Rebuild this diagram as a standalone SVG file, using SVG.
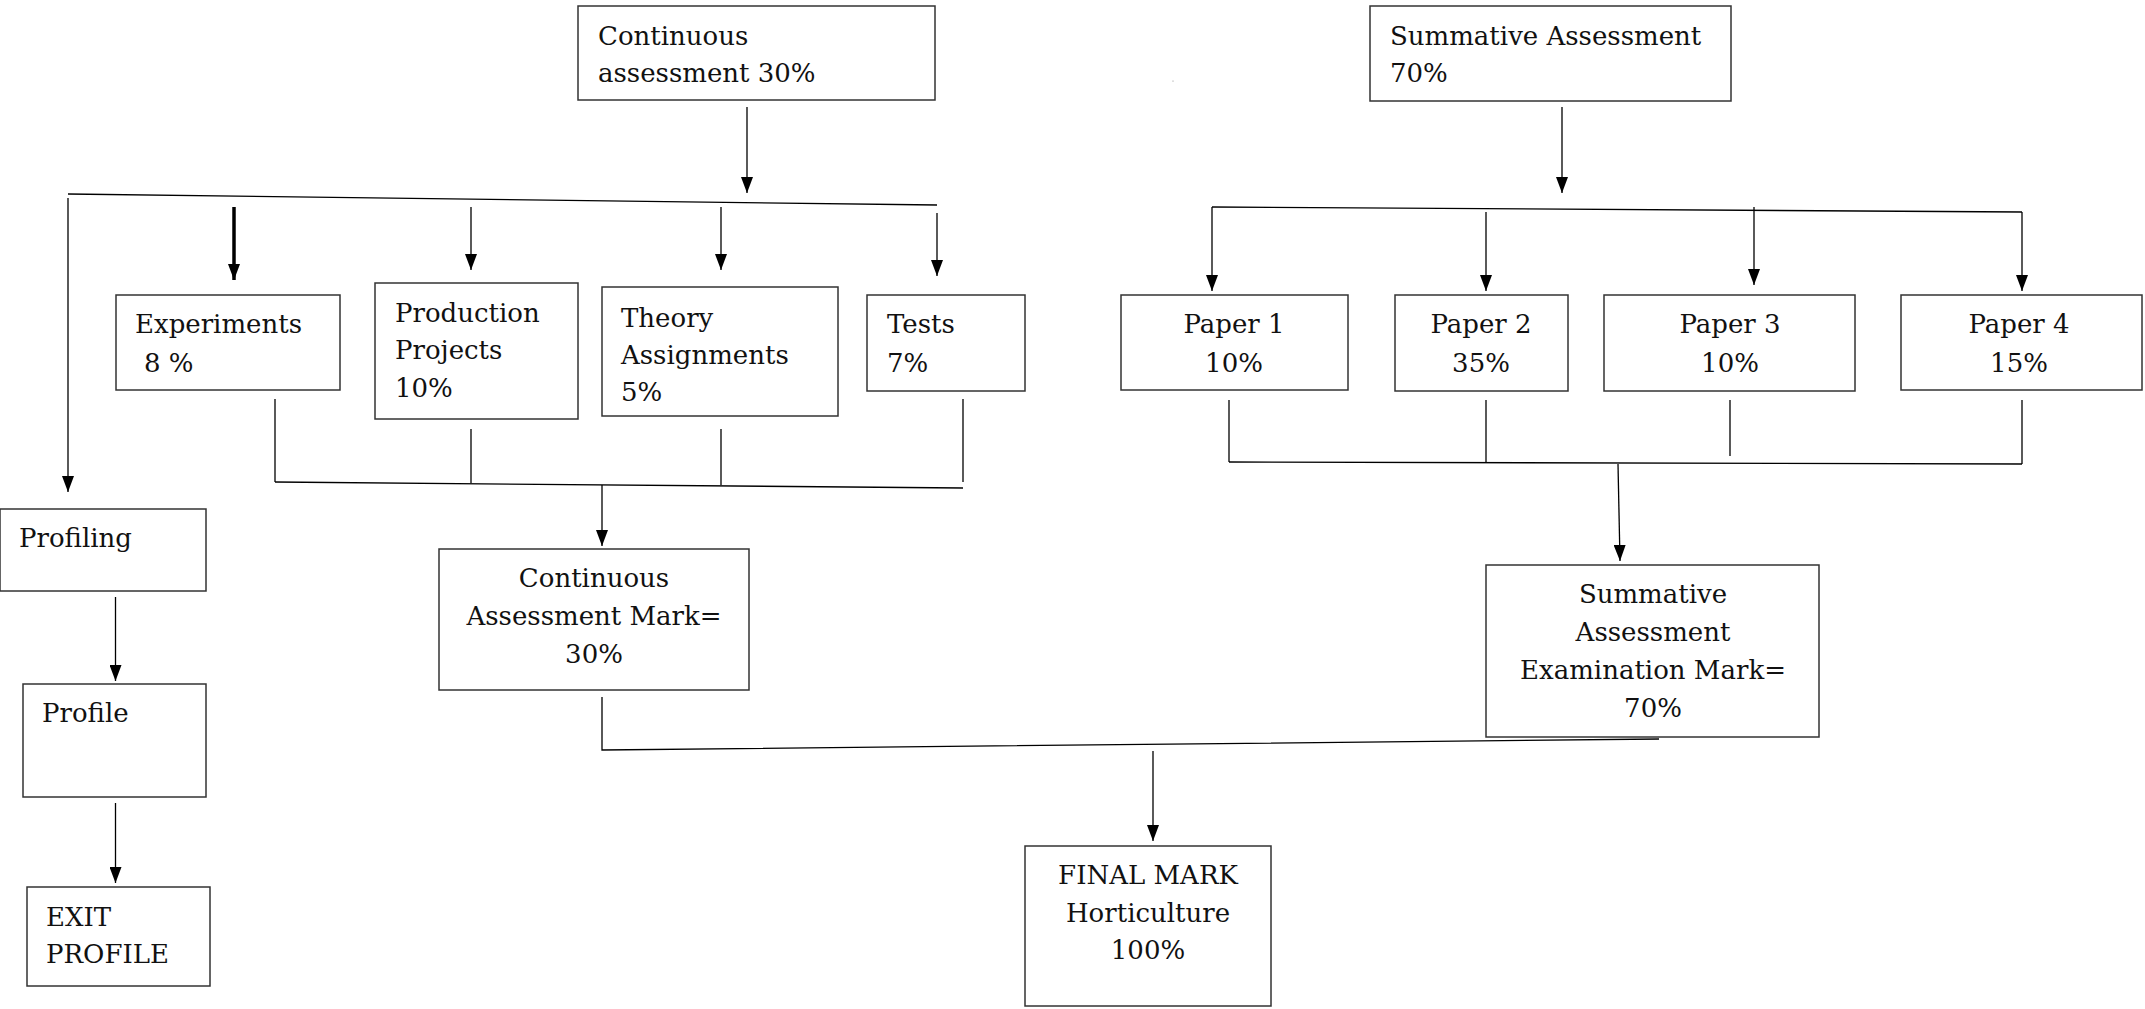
<svg xmlns="http://www.w3.org/2000/svg" width="2145" height="1009" viewBox="0 0 2145 1009">
<style>
.box{fill:#fff;stroke:#333;stroke-width:1.5}
.t{font-family:"DejaVu Serif","Liberation Serif",serif;font-size:26px;fill:#111}
.c{text-anchor:middle}
.ln{stroke:#000;stroke-width:1.3;fill:none}
.ar{stroke:#000;stroke-width:1.3;fill:none;marker-end:url(#ah)}
.thick{stroke:#000;stroke-width:3.5;fill:none;marker-end:url(#ah)}
</style>
<defs>
<marker id="ah" markerUnits="userSpaceOnUse" markerWidth="16" markerHeight="12" viewBox="0 0 16 12" refX="16" refY="6" orient="auto">
<path d="M0,0 L16,6 L0,12 z" fill="#000"/>
</marker>
</defs>
<rect width="2145" height="1009" fill="#fff"/>
<g id="connectors">
<line class="ar" x1="747" y1="107" x2="747" y2="193"/>
<line class="ln" x1="68" y1="194" x2="937" y2="205"/>
<line class="ar" x1="68" y1="198" x2="68" y2="492"/>
<line class="thick" x1="234" y1="207" x2="234" y2="280"/>
<line class="ar" x1="471" y1="207" x2="471" y2="270"/>
<line class="ar" x1="721" y1="207" x2="721" y2="270"/>
<line class="ar" x1="937" y1="213" x2="937" y2="276"/>
<line class="ln" x1="275" y1="399" x2="275" y2="482"/>
<line class="ln" x1="471" y1="429" x2="471" y2="483"/>
<line class="ln" x1="721" y1="429" x2="721" y2="485"/>
<line class="ln" x1="963" y1="399" x2="963" y2="482"/>
<line class="ln" x1="275" y1="482" x2="963" y2="488"/>
<line class="ar" x1="602" y1="485" x2="602" y2="546"/>
<line class="ar" x1="115.5" y1="597" x2="115.5" y2="681"/>
<line class="ar" x1="115.5" y1="803" x2="115.5" y2="883"/>
<polyline class="ln" points="602,697 602,750 1659,739"/>
<line class="ar" x1="1153" y1="751" x2="1153" y2="841"/>
<line class="ar" x1="1562" y1="107" x2="1562" y2="193"/>
<line class="ln" x1="1212" y1="207" x2="2022" y2="212"/>
<line class="ar" x1="1212" y1="207" x2="1212" y2="291"/>
<line class="ar" x1="1486" y1="212" x2="1486" y2="291"/>
<line class="ar" x1="1754" y1="207" x2="1754" y2="285"/>
<line class="ar" x1="2022" y1="212" x2="2022" y2="291"/>
<line class="ln" x1="1229" y1="400" x2="1229" y2="462"/>
<line class="ln" x1="1486" y1="400" x2="1486" y2="462"/>
<line class="ln" x1="1730" y1="400" x2="1730" y2="456"/>
<line class="ln" x1="2022" y1="400" x2="2022" y2="464"/>
<line class="ln" x1="1229" y1="462" x2="2022" y2="464"/>
<line class="ar" x1="1618" y1="464" x2="1620" y2="561"/>
<circle cx="1173" cy="81" r="0.6" fill="#888"/>
</g>
<g id="ca-top"><rect class="box" x="578" y="6" width="357" height="94"/><text class="t" x="598" y="45">Continuous</text><text class="t" x="598" y="82">assessment 30%</text></g>
<g id="sa-top"><rect class="box" x="1370" y="6" width="361" height="95"/><text class="t" x="1390" y="45">Summative Assessment</text><text class="t" x="1390" y="82">70%</text></g>
<g id="experiments"><rect class="box" x="116" y="295" width="224" height="95"/><text class="t" x="135" y="333">Experiments</text><text class="t" x="144" y="372">8 %</text></g>
<g id="production"><rect class="box" x="375" y="283" width="203" height="136"/><text class="t" x="395" y="322">Production</text><text class="t" x="395" y="359">Projects</text><text class="t" x="395" y="397">10%</text></g>
<g id="theory"><rect class="box" x="602" y="287" width="236" height="129"/><text class="t" x="621" y="327">Theory</text><text class="t" x="621" y="364">Assignments</text><text class="t" x="621" y="401">5%</text></g>
<g id="tests"><rect class="box" x="867" y="295" width="158" height="96"/><text class="t" x="887" y="333">Tests</text><text class="t" x="887" y="372">7%</text></g>
<g id="paper1"><rect class="box" x="1121" y="295" width="227" height="95"/><text class="t c" x="1234" y="333">Paper 1</text><text class="t c" x="1234" y="372">10%</text></g>
<g id="paper2"><rect class="box" x="1395" y="295" width="173" height="96"/><text class="t c" x="1481" y="333">Paper 2</text><text class="t c" x="1481" y="372">35%</text></g>
<g id="paper3"><rect class="box" x="1604" y="295" width="251" height="96"/><text class="t c" x="1730" y="333">Paper 3</text><text class="t c" x="1730" y="372">10%</text></g>
<g id="paper4"><rect class="box" x="1901" y="295" width="241" height="95"/><text class="t c" x="2019" y="333">Paper 4</text><text class="t c" x="2019" y="372">15%</text></g>
<g id="profiling"><rect class="box" x="0" y="509" width="206" height="82"/><text class="t" x="19" y="547">Profiling</text></g>
<g id="profile"><rect class="box" x="23" y="684" width="183" height="113"/><text class="t" x="42" y="722">Profile</text></g>
<g id="exit-profile"><rect class="box" x="27" y="887" width="183" height="99"/><text class="t" x="46" y="926">EXIT</text><text class="t" x="46" y="963">PROFILE</text></g>
<g id="ca-mark"><rect class="box" x="439" y="549" width="310" height="141"/><text class="t c" x="594" y="587">Continuous</text><text class="t c" x="594" y="625">Assessment Mark=</text><text class="t c" x="594" y="663">30%</text></g>
<g id="sa-mark"><rect class="box" x="1486" y="565" width="333" height="172"/><text class="t c" x="1653" y="603">Summative</text><text class="t c" x="1653" y="641">Assessment</text><text class="t c" x="1653" y="679">Examination Mark=</text><text class="t c" x="1653" y="717">70%</text></g>
<g id="final"><rect class="box" x="1025" y="846" width="246" height="160"/><text class="t c" x="1148" y="884">FINAL MARK</text><text class="t c" x="1148" y="922">Horticulture</text><text class="t c" x="1148" y="959">100%</text></g>
</svg>
